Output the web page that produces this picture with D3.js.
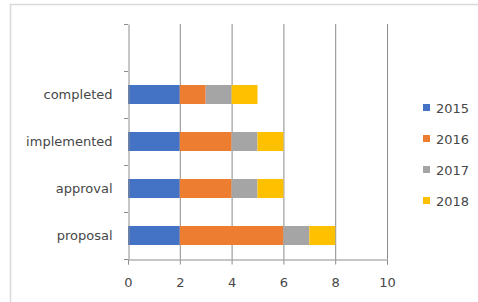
<!DOCTYPE html>
<html>
<head>
<meta charset="utf-8" />
<script src="https://cdn.jsdelivr.net/npm/d3@7/dist/d3.min.js"></script>
<style>
  body { margin: 0; background: #fff; }
  text { font-family: "DejaVu Sans", sans-serif; fill: #474747; }
</style>
</head>
<body>
<svg width="478" height="302" id="mainsvg"></svg>
<script>
  const categories = ["proposal", "approval", "implemented", "completed", ""];
  const years = ["2015", "2016", "2017", "2018"];
  const v2015 = [2, 2, 2, 2];
  const v2016 = [4, 2, 2, 1];
  const v2017 = [1, 1, 1, 1];
  const v2018 = [1, 1, 1, 1];
  const xTicks = [0, 2, 4, 6, 8, 10];
  const colors = ["#4472C4", "#ED7D31", "#A5A5A5", "#FFC000"];
  const font = "'DejaVu Sans', sans-serif";

  let svg = d3.select("#mainsvg");

  // chart frame
  svg.append("path")
    .attr("d", "M10.5,302 L10.5,4.5 L478,4.5")
    .attr("fill", "none").attr("stroke", "#d9d9d9").attr("stroke-width", 1.5);

  const x = d3.scaleLinear().domain([0, 10]).range([128, 387]);
  const band = d3.scaleBand().domain(categories).range([259, 24]);

  // gridlines
  svg.selectAll(".grid").data(xTicks.slice(1)).join("line")
    .attr("class", "grid")
    .attr("x1", d => x(d) + 0.5).attr("x2", d => x(d) + 0.5)
    .attr("y1", 24).attr("y2", 259)
    .attr("stroke", "#8c8c8c").attr("stroke-width", 1);

  // stacked bars
  const rows = categories.slice(0, 4).map((c, i) => ({
    cat: c, "2015": v2015[i], "2016": v2016[i], "2017": v2017[i], "2018": v2018[i]
  }));
  const stack = d3.stack().keys(years)(rows);

  svg.selectAll(".series").data(stack).join("g")
    .attr("class", "series")
    .attr("fill", (d, i) => colors[i])
    .selectAll("rect").data(d => d).join("rect")
    .attr("x", d => x(d[0]))
    .attr("width", d => x(d[1]) - x(d[0]))
    .attr("y", d => band(d.data.cat) + (band.bandwidth() - 19) / 2)
    .attr("height", 19);

  // x axis
  const xAxis = svg.append("g").attr("transform", "translate(0,259.5)")
    .call(d3.axisBottom(x).tickValues(xTicks).tickSize(5).tickPadding(13));
  xAxis.select(".domain").attr("stroke", "#8c8c8c");
  xAxis.selectAll(".tick line").attr("stroke", "#8c8c8c");
  xAxis.selectAll(".tick text").attr("font-size", 13).attr("fill", "#474747")
    .style("font-family", font);

  // y axis
  const yAxis = svg.append("g").attr("transform", "translate(128.5,0)")
    .call(d3.axisLeft(band).tickSize(0).tickPadding(16));
  yAxis.select(".domain").attr("stroke", "#8c8c8c");
  yAxis.selectAll(".tick text").attr("font-size", 13).attr("fill", "#474747")
    .style("font-family", font);
  svg.selectAll(".ytick").data(d3.range(categories.length + 1)).join("line")
    .attr("class", "ytick")
    .attr("x1", 124).attr("x2", 128)
    .attr("y1", i => 259 - i * band.step() + 0.5).attr("y2", i => 259 - i * band.step() + 0.5)
    .attr("stroke", "#8c8c8c");

  // legend
  const legend = svg.selectAll(".legend").data(years).join("g")
    .attr("class", "legend")
    .attr("transform", (d, i) => `translate(423,${108 + i * 31})`);
  legend.append("rect").attr("x", 0).attr("y", -4).attr("width", 7).attr("height", 7)
    .attr("fill", (d, i) => colors[i]);
  legend.append("text").attr("x", 13).attr("y", 0).attr("dy", "0.35em")
    .attr("font-size", 13).text(d => d);
</script>
</body>
</html>
